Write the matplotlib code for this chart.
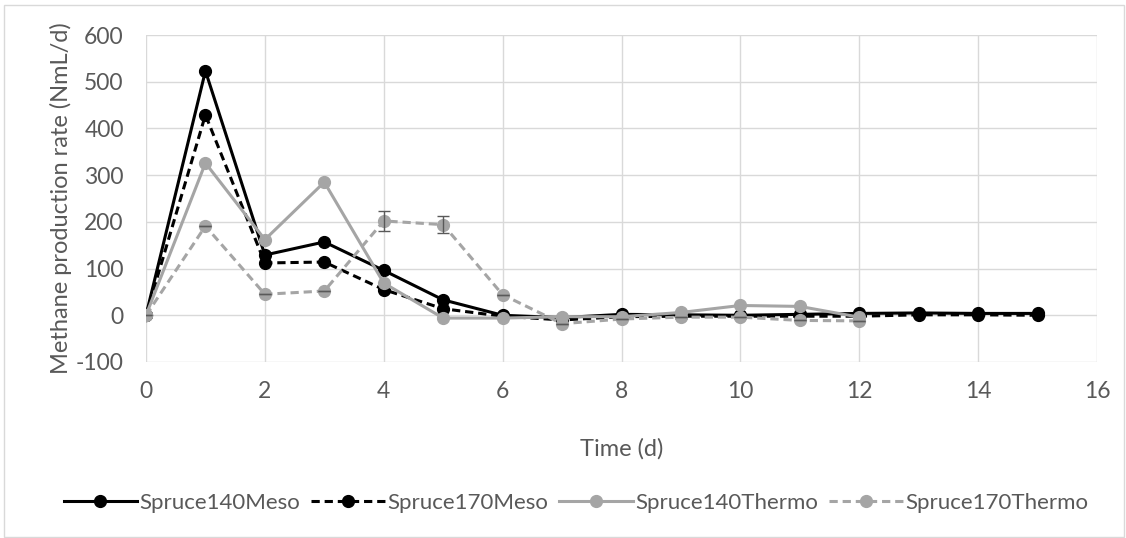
import matplotlib.pyplot as plt
from matplotlib.patches import Rectangle

plt.rcParams['font.family'] = ['Lato', 'DejaVu Sans']
plt.rcParams['axes.unicode_minus'] = False

# data
days = list(range(16))
days_thermo = list(range(13))

spruce140_meso = [0, 523, 129, 157, 96, 33, 0, -5, 2, 1, 0, 2, 4, 5, 4, 4]
spruce170_meso = [0, 429, 112, 114, 55, 14, -2, -10, -3, -2, -2, -2, -2, 1, 1, 0]
spruce140_thermo = [0, 326, 162, 285, 69, -6, -6, -3, -3, 6, 21, 19, -4]
spruce170_thermo = [0, 191, 45, 52, 202, 194, 44, -18, -8, -4, -4, -11, -12]
spruce170_thermo_err = [0, 0, 0, 0, 21, 18, 0, 0, 0, 0, 0, 0, 0]

labels = ['Spruce140Meso', 'Spruce170Meso', 'Spruce140Thermo', 'Spruce170Thermo']

black = '#000000'
grey = '#A5A5A5'
text_col = '#595959'
grid_col = '#D9D9D9'
dash = (0, (2.7, 1.6))

fig = plt.figure(figsize=(11.26, 5.38), dpi=100)
ax = fig.add_axes([146 / 1126, 1 - 362 / 538, (1097 - 146) / 1126, (362 - 35) / 538])

# outer chart border
fig.patches.append(Rectangle((4 / 1126, 1 / 538), 1120 / 1126, 532 / 538,
                             transform=fig.transFigure, fill=False,
                             edgecolor=grid_col, linewidth=1))

lw = 2.2
ms = 8.5
ax.plot(days, spruce140_meso, color=black, lw=lw, marker='o', ms=ms, label=labels[0], zorder=3)
ax.plot(days, spruce170_meso, color=black, lw=lw, ls=dash, marker='o', ms=ms, label=labels[1], zorder=3)
ax.plot(days_thermo, spruce140_thermo, color=grey, lw=lw, marker='o', ms=ms, label=labels[2], zorder=4)
ax.plot(days_thermo, spruce170_thermo, color=grey, lw=lw, ls=dash, marker='o', ms=ms, label=labels[3], zorder=4)
ax.errorbar(days_thermo, spruce170_thermo, yerr=spruce170_thermo_err, fmt='none',
            ecolor=text_col, elinewidth=1, capsize=4, capthick=1, zorder=5)

ax.set_xlim(0, 16)
ax.set_ylim(-100, 600)
ax.set_xticks(range(0, 17, 2))
ax.set_yticks(range(-100, 601, 100))
ax.grid(True, color=grid_col, lw=1)
ax.set_axisbelow(True)
for s in ax.spines.values():
    s.set_visible(False)
ax.tick_params(length=0, labelsize=16.5, labelcolor=text_col)
ax.tick_params(axis='x', pad=14)
ax.tick_params(axis='y', pad=16)

ax.set_xlabel('Time (d)', fontsize=17, color=text_col, labelpad=26)
ax.set_ylabel('Methane production rate (NmL/d)', fontsize=17, color=text_col, labelpad=3)

fig.legend(loc='center', bbox_to_anchor=(576 / 1126, 1 - 503 / 538), ncol=4, frameon=False,
           fontsize=16, labelcolor=text_col, handlelength=3.3, handletextpad=0.12,
           columnspacing=0.5)

fig.savefig('out.png', dpi=100)
